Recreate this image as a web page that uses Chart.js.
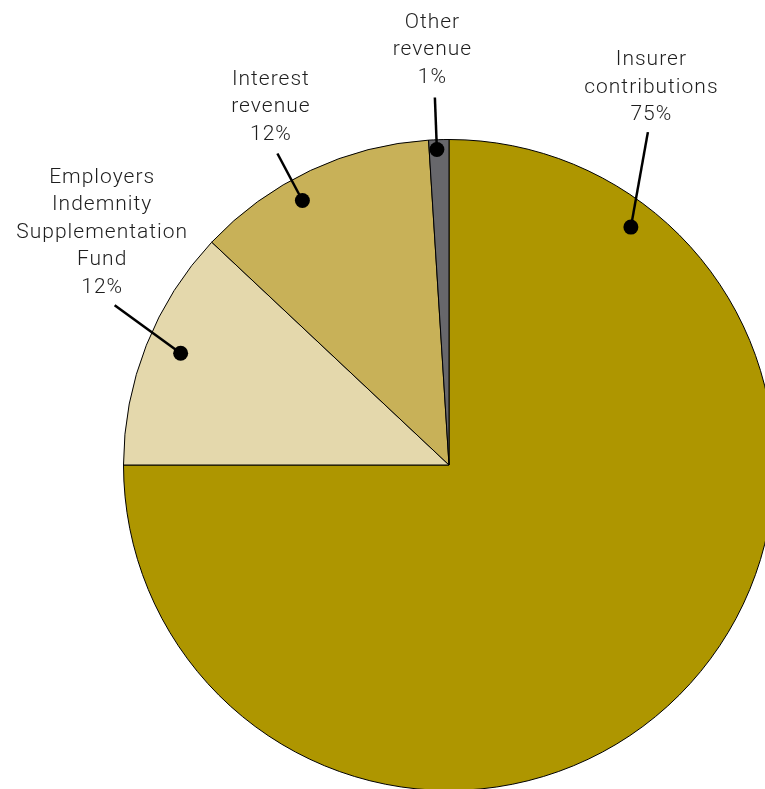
<!DOCTYPE html>
<html>
<head>
<meta charset="utf-8">
<script src="https://cdn.jsdelivr.net/npm/chart.js@4"></script>
<style>
  html, body { margin: 0; padding: 0; background: #fff; overflow: hidden; }
  #wrap { position: absolute; left: 0; top: 0; width: 898px; height: 930px; }
</style>
</head>
<body>
<div id="wrap"><canvas id="PieChart" width="898" height="930"></canvas></div>
<script>
// data (clockwise from 12 o'clock)
const labels = [
    ['Insurer', 'contributions'],
    ['Employers', 'Indemnity', 'Supplementation', 'Fund'],
    ['Interest', 'revenue'],
    ['Other', 'revenue']
];
const values = [75, 12, 12, 1];
const colors = ['#AE9600', '#E4D8AC', '#C8B158', '#67676B'];

// callout layout: dot at (angle deg clockwise from top, fraction of radius),
// text / leader start offsets relative to the dot
const callouts = [
    { angle: 37.4,  r: 0.92,  tx: 20,  ty: -112, lx: 17,  ly: -95 },
    { angle: 292.6, r: 0.893, tx: -79, ty: -66,  lx: -66, ly: -48 },
    { angle: 331,   r: 0.929, tx: -32, ty: -66,  lx: -25, ly: -47 },
    { angle: 357.8, r: 0.97,  tx: -5,  ty: -72,  lx: -2,  ly: -52 }
];

const calloutPlugin = {
    id: 'callouts',
    afterDatasetsDraw(chart) {
        const ctx = chart.ctx;
        const arc = chart.getDatasetMeta(0).data[0];
        const cx = arc.x, cy = arc.y, R = arc.outerRadius;
        const total = values.reduce((a, b) => a + b, 0);
        ctx.save();
        ctx.font = '300 21px Roboto, "Liberation Sans", sans-serif';
        ctx.letterSpacing = '1px';
        ctx.textAlign = 'center';
        ctx.textBaseline = 'middle';
        callouts.forEach((c, i) => {
            const a = c.angle * Math.PI / 180;
            const dx = cx + Math.sin(a) * R * c.r;
            const dy = cy - Math.cos(a) * R * c.r;
            // leader
            ctx.strokeStyle = '#000';
            ctx.lineWidth = 2.5;
            ctx.beginPath();
            ctx.moveTo(dx + c.lx, dy + c.ly);
            ctx.lineTo(dx, dy);
            ctx.stroke();
            // dot
            ctx.fillStyle = '#000';
            ctx.beginPath();
            ctx.arc(dx, dy, 7.5, 0, Math.PI * 2);
            ctx.fill();
            // text
            const pct = Math.round(values[i] / total * 100) + '%';
            const lines = labels[i].concat([pct]);
            ctx.fillStyle = '#1e1e1e';
            const lh = 27.5;
            lines.forEach((t, k) => {
                const y = dy + c.ty - (lines.length - 1 - k) * lh;
                ctx.fillText(t, dx + c.tx + 0.5, y);
            });
        });
        ctx.restore();
    }
};

const ctxPie = document.getElementById('PieChart').getContext('2d');
new Chart(ctxPie, {
    type: 'pie',
    data: {
        labels: labels,
        datasets: [{
            data: values,
            backgroundColor: colors,
            borderColor: '#000',
            borderWidth: 1
        }]
    },
    options: {
        responsive: false,
        animation: false,
        layout: { padding: { left: 123, right: 123, top: 139, bottom: 139 } },
        plugins: { legend: { display: false }, tooltip: { enabled: false } }
    },
    plugins: [calloutPlugin]
});
</script>
</body>
</html>
